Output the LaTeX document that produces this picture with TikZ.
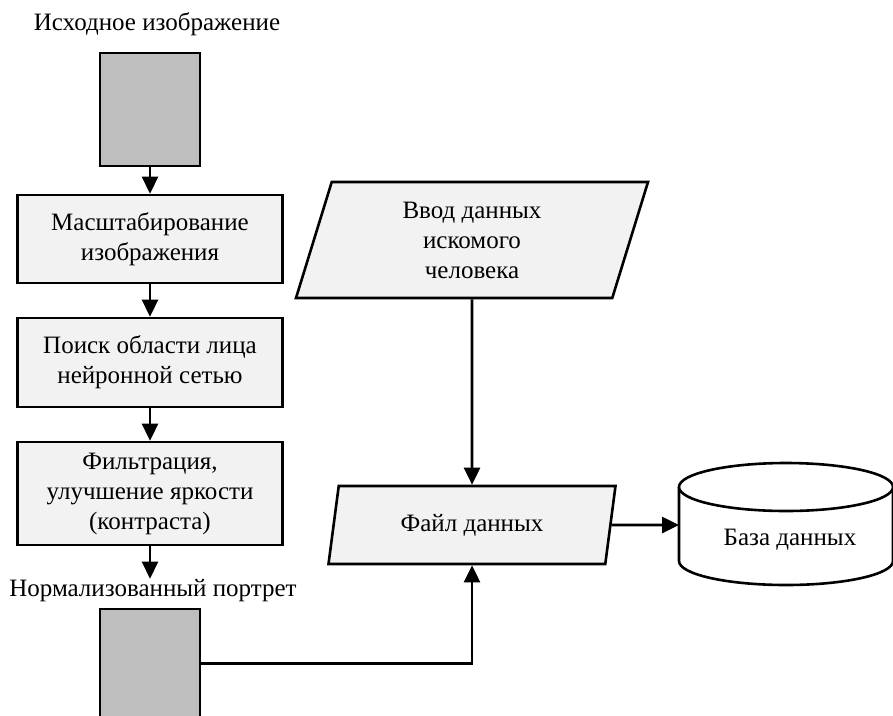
\documentclass[tikz,border=0pt]{standalone}
\usepackage{fontspec}
\setmainfont{Liberation Serif}
\usetikzlibrary{arrows.meta,shapes.geometric,calc}
\definecolor{imggray}{RGB}{190,190,190}
\definecolor{boxfill}{RGB}{242,242,242}
\begin{document}
\begin{tikzpicture}[x=1pt,y=-1pt,
  every node/.style={font=\fontsize{25}{30}\selectfont},
  label/.style={inner sep=0pt, anchor=base},
  imgbox/.style={draw, line width=2.6pt, fill=imggray, minimum width=100pt, inner sep=0pt},
  procbox/.style={draw, line width=2.6pt, fill=boxfill, minimum width=265pt, align=center, inner sep=0pt},
  iobox/.style={trapezium, trapezium left angle=65, trapezium right angle=115,
    trapezium stretches body, draw, line width=2.6pt, fill=boxfill, align=center, inner sep=0pt},
  flow/.style={line width=2.6pt, -{Triangle[length=17pt,width=16pt]}},
  cyl/.style={line width=2.6pt, fill=white}]
\fill[white] (0,0) rectangle (893,715);
\useasboundingbox (0,0) rectangle (893,715);

% left column: image processing chain
\node[label] (srclabel) at (157,30) {Исходное изображение};
\node[imgbox, minimum height=113pt] (src) at (150,109.5) {};
\node[procbox, minimum height=88pt] (scale) at (150,239) {Масштабирование\\изображения};
\node[procbox, minimum height=89pt] (search) at (150,362.5) {Поиск области лица\\нейронной сетью};
\node[procbox, minimum height=103pt] (filt) at (150,493.5) {Фильтрация,\\улучшение яркости\\(контраста)};
\node[label] (normlabel) at (153,596) {Нормализованный портрет};
\node[imgbox, minimum height=140pt] (norm) at (150,679) {};
\coordinate (normout) at ([yshift=-56pt]norm.north east);

% right column: data input and storage
\node[iobox, minimum width=352pt, minimum height=116pt] (input) at (472,240) {Ввод данных\\искомого\\человека};
\node[iobox, minimum width=287pt, minimum height=78pt] (file) at (472,525) {Файл данных};

% database cylinder
\draw[cyl] (679,487) -- (679,561)
  arc[start angle=180, end angle=360, x radius=107pt, y radius=24pt] -- (893,487);
\draw[cyl] (786,487) ellipse [x radius=107pt, y radius=24pt];
\node (db) at (790,540) {База данных};
\coordinate (dbin) at (679,525);

% connectors
\draw[flow] (src.south) -- (scale.north);
\draw[flow] (scale.south) -- (search.north);
\draw[flow] (search.south) -- (filt.north);
\draw[flow] (filt.south) -- (normlabel.north -| filt.south);
\draw[flow] (input.south) -- (file.north);
\draw[flow] (file.east) -- (dbin);
\draw[flow] (normout) -| (file.south);
\end{tikzpicture}
\end{document}
